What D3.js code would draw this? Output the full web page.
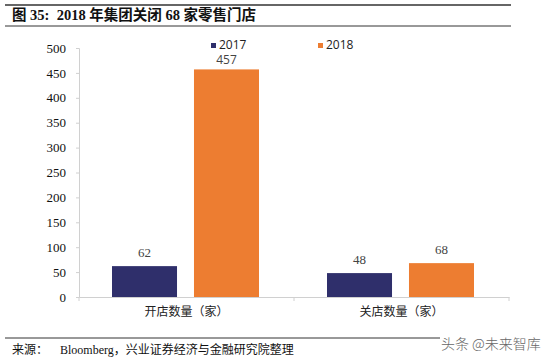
<!DOCTYPE html>
<html>
<head>
<meta charset="utf-8">
<script src="https://cdn.jsdelivr.net/npm/d3@7"></script>
<style>
  body { margin: 0; background: #fff; }
</style>
</head>
<body>
<div id="chart"></div>
<script>
var categories = ["开店数量（家）", "关店数量（家）"]
var seriesNames = ["2017", "2018"]
var values2017 = [62, 48]
var values2018 = [457, 68]
var yTicks = [0, 50, 100, 150, 200, 250, 300, 350, 400, 450, 500]
var colors = ["#2f2f6b", "#ed7d31"]

var width = 553, height = 363
var serif = "'Liberation Serif', 'Times New Roman', 'Noto Sans CJK SC', serif"
var cjk = "'Liberation Serif', 'Noto Sans CJK SC', serif"
var sans = "'Open Sans', 'DejaVu Sans', sans-serif"

let svg = d3.select("#chart")
  .append("svg")
  .attr("width", width)
  .attr("height", height)

// title block
svg.append("line").attr("x1", 5).attr("x2", 511).attr("y1", 5).attr("y2", 5)
  .attr("stroke", "#333").attr("stroke-width", 1.5)
svg.append("text")
  .attr("x", 12).attr("y", 20)
  .style("font-family", cjk).style("font-size", "14.5px").style("font-weight", "bold")
  .style("white-space", "pre")
  .attr("fill", "#111")
  .text("图 35:  2018 年集团关闭 68 家零售门店")
svg.append("line").attr("x1", 5).attr("x2", 511).attr("y1", 26).attr("y2", 26)
  .attr("stroke", "#333").attr("stroke-width", 1)

var x = d3.scaleBand().domain(categories).range([79, 509])
var y = d3.scaleLinear().domain([0, 500]).range([297, 48])
var inner = d3.scaleBand().domain(seriesNames).range([33, 180]).paddingInner(0.207)

// y axis
let yAxis = svg.append("g")
  .attr("transform", "translate(79,0)")
  .call(d3.axisLeft(y).tickValues(yTicks).tickSize(3).tickPadding(10))
yAxis.select(".domain").attr("stroke", "#d0d0d0")
yAxis.selectAll(".tick line").attr("stroke", "#d0d0d0")
yAxis.selectAll("text")
  .style("font-family", serif).style("font-size", "13px").attr("fill", "#111")

// x axis
let xAxis = svg.append("g")
  .attr("transform", "translate(0,297)")
  .call(d3.axisBottom(x).tickSize(0).tickPadding(8))
xAxis.select(".domain").attr("stroke", "#d0d0d0")
xAxis.selectAll("text")
  .style("font-family", cjk).style("font-size", "12px").attr("fill", "#222")
  .attr("dy", "0.9em")
svg.append("g").selectAll("line")
  .data([509, ...categories.map(c => x(c))])
  .enter().append("line")
  .attr("x1", d => d).attr("x2", d => d)
  .attr("y1", 297).attr("y2", 301)
  .attr("stroke", "#d0d0d0")

// bars
var table = []
categories.forEach(function(c, i) {
  table.push({cat: c, s: "2017", v: values2017[i], col: colors[0]})
  table.push({cat: c, s: "2018", v: values2018[i], col: colors[1]})
})

svg.append("g").selectAll("rect")
  .data(table)
  .enter().append("rect")
  .attr("x", d => x(d.cat) + inner(d.s))
  .attr("y", d => y(d.v))
  .attr("width", inner.bandwidth())
  .attr("height", d => y(0) - y(d.v))
  .attr("fill", d => d.col)

svg.append("g").selectAll("text")
  .data(table)
  .enter().append("text")
  .attr("x", d => x(d.cat) + inner(d.s) + inner.bandwidth() / 2)
  .attr("y", d => y(d.v) - (d.v > 400 ? 5 : 9))
  .attr("text-anchor", "middle")
  .style("font-family", d => d.v > 400 ? sans : serif)
  .style("font-size", d => d.v > 400 ? "12px" : "13px")
  .attr("fill", "#444")
  .text(d => d.v)

// legend
var legendX = [211, 318]
seriesNames.forEach(function(s, i) {
  svg.append("rect").attr("x", legendX[i]).attr("y", 43).attr("width", 5).attr("height", 5)
    .attr("fill", colors[i])
  svg.append("text").attr("x", legendX[i] + 8).attr("y", 49)
    .style("font-family", sans).style("font-size", "12px")
    .attr("fill", "#222")
    .text(s)
})

// source
svg.append("line").attr("x1", 5).attr("x2", 440).attr("y1", 338).attr("y2", 338)
  .attr("stroke", "#333").attr("stroke-width", 1)
svg.append("text")
  .attr("x", 12).attr("y", 354)
  .style("font-family", cjk).style("font-size", "12px").attr("fill", "#111")
  .style("white-space", "pre")
  .text("来源：    Bloomberg，兴业证券经济与金融研究院整理")
svg.append("text")
  .attr("x", 441).attr("y", 349)
  .style("font-family", "'Noto Sans CJK SC', sans-serif").style("font-size", "14px")
  .style("font-weight", "300")
  .attr("fill", "#666")
  .text("头条 @未来智库")
</script>
</body>
</html>
